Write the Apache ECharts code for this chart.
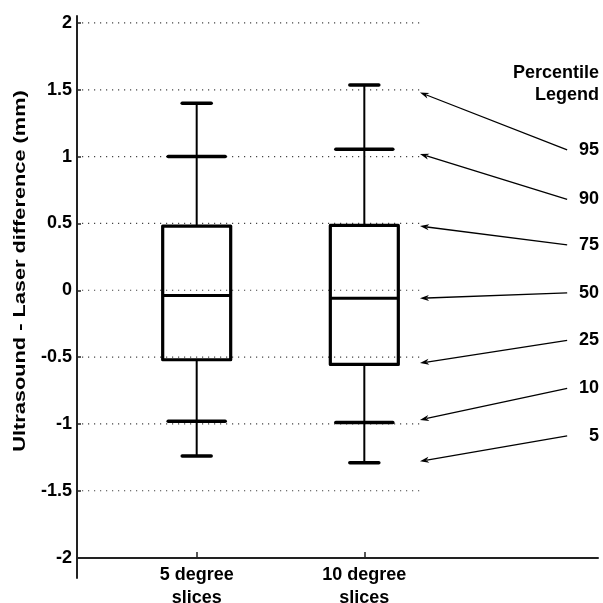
<!DOCTYPE html>
<html><head><meta charset="utf-8">
<script src="https://cdn.jsdelivr.net/npm/echarts@6/dist/echarts.min.js"></script>
<style>html,body{margin:0;padding:0;background:#fff}#c{width:603px;height:603px}</style>
</head><body><div id="c"></div>
<script>
// ---- data ----
const categories = ['5 degree\nslices', '10 degree\nslices'];
const catPositions = [1, 2];
const p5  = [-1.24, -1.29];
const p10 = [-0.98, -0.99];
const p25 = [-0.52, -0.555];
const p50 = [-0.04, -0.06];
const p75 = [0.48, 0.485];
const p90 = [1.00, 1.055];
const p95 = [1.40, 1.535];
const yTicks = [-2, -1.5, -1, -0.5, 0, 0.5, 1, 1.5, 2];
const gridValues = [-1.5, -1, -0.5, 0, 0.5, 1, 1.5, 2];
const legendLabels = ['95', '90', '75', '50', '25', '10', '5'];
const legendLabelY = [1.05, 0.68, 0.34, -0.02, -0.375, -0.735, -1.09];
const legendTargetY = [1.48, 1.02, 0.48, -0.06, -0.545, -0.97, -1.28];

// ---- layout constants (axis units) ----
const X_MIN = 0.286, X_MAX = 3.394;
const GRID_END = 2.332, ARROW_TAIL = 3.21, LABEL_X = 3.40;
const FONT = '"Liberation Sans", Arial, sans-serif';

const boxData = catPositions.map((x, i) => [x, p5[i], p10[i], p25[i], p50[i], p75[i], p90[i], p95[i]]);

function hline(x1, x2, y, w, cap) {
  return { type: 'line', shape: { x1, y1: y, x2, y2: y }, style: { stroke: '#000', lineWidth: w, lineCap: cap || 'butt' } };
}

const chart = echarts.init(document.getElementById('c'), null, { renderer: 'canvas' });
chart.setOption({
  animation: false,
  backgroundColor: '#fff',
  grid: { left: 77, right: 5, top: 16, bottom: 25, containLabel: false, outerBoundsMode: 'none' },
  xAxis: {
    type: 'value', min: X_MIN, max: X_MAX, offset: -20,
    splitLine: { show: false },
    axisLine: { show: true, onZero: false, lineStyle: { color: '#222', width: 2 } },
    axisTick: { show: true, inside: true, length: 6, customValues: catPositions, lineStyle: { color: '#222', width: 1.5 } },
    axisLabel: {
      customValues: catPositions, margin: 6,
      formatter: v => { const i = catPositions.indexOf(Math.round(v)); return i >= 0 ? categories[i] : ''; },
      fontFamily: FONT, fontWeight: 'bold', fontSize: 18, lineHeight: 23, color: '#000'
    }
  },
  yAxis: {
    type: 'value', min: -2.153, max: 2.052,
    splitLine: { show: false },
    axisLine: { show: true, lineStyle: { color: '#222', width: 2 } },
    axisTick: { show: true, inside: true, length: 4, customValues: yTicks, lineStyle: { color: '#222', width: 1.5 } },
    axisLabel: { customValues: yTicks, margin: 5, fontFamily: FONT, fontWeight: 'bold', fontSize: 18, color: '#000' }
  },
  graphic: [
    { type: 'text', x: 599, y: 62, style: { text: 'Percentile\nLegend', align: 'right', verticalAlign: 'top', font: 'bold 18px ' + FONT, lineHeight: 22, fill: '#000' } },
    { type: 'text', x: 20, y: 271, rotation: Math.PI / 2, scaleX: 1.28,
      style: { text: 'Ultrasound - Laser difference (mm)', align: 'center', verticalAlign: 'middle', font: 'bold 17px ' + FONT, fill: '#000' } }
  ],
  series: [
    {
      type: 'custom', z: 1, clip: false,
      data: gridValues.map(v => [v]),
      renderItem: (params, api) => {
        const v = api.value(0);
        const a = api.coord([X_MIN, v]), b = api.coord([GRID_END, v]);
        return { type: 'line', shape: { x1: a[0] + 5, y1: a[1], x2: b[0], y2: b[1] },
                 style: { stroke: '#444', lineWidth: 1.2, lineDash: [1.2, 4.8] } };
      }
    },
    {
      type: 'custom', z: 3, clip: false,
      data: boxData,
      renderItem: (params, api) => {
        const x = api.value(0);
        const c = v => api.coord([x, v]);
        const cx = c(api.value(1))[0];
        const y5 = c(api.value(1))[1], y10 = c(api.value(2))[1], y25 = c(api.value(3))[1],
              y50 = c(api.value(4))[1], y75 = c(api.value(5))[1], y90 = c(api.value(6))[1], y95 = c(api.value(7))[1];
        const bw = 34, cap1 = 28.5, cap2 = 14.5;
        return { type: 'group', children: [
          { type: 'line', shape: { x1: cx, y1: y95, x2: cx, y2: y75 }, style: { stroke: '#000', lineWidth: 2 } },
          { type: 'line', shape: { x1: cx, y1: y25, x2: cx, y2: y5 }, style: { stroke: '#000', lineWidth: 2 } },
          hline(cx - cap2, cx + cap2, y95, 3.5, 'round'),
          hline(cx - cap2, cx + cap2, y5, 3.5, 'round'),
          hline(cx - cap1, cx + cap1, y90, 3.5, 'round'),
          hline(cx - cap1, cx + cap1, y10, 3.5, 'round'),
          { type: 'rect', shape: { x: cx - bw, y: y75, width: 2 * bw, height: y25 - y75 },
            style: { fill: 'none', stroke: '#000', lineWidth: 3.2, lineJoin: 'round' } },
          hline(cx - bw, cx + bw, y50, 3)
        ] };
      }
    },
    {
      type: 'custom', z: 4, clip: false,
      data: legendLabels.map((l, i) => [legendLabelY[i], legendTargetY[i]]),
      renderItem: (params, api) => {
        const tail = api.coord([ARROW_TAIL, api.value(0)]);
        const head = api.coord([GRID_END, api.value(1)]);
        const lab = api.coord([LABEL_X, api.value(0)]);
        const dx = tail[0] - head[0], dy = tail[1] - head[1];
        const len = Math.sqrt(dx * dx + dy * dy), ux = dx / len, uy = dy / len;
        const L = 9, W = 3;
        const bx = head[0] + ux * L, by = head[1] + uy * L;
        return { type: 'group', children: [
          { type: 'line', shape: { x1: tail[0], y1: tail[1], x2: bx - ux * 2, y2: by - uy * 2 }, style: { stroke: '#000', lineWidth: 1.3 } },
          { type: 'polygon', shape: { points: [[head[0], head[1]], [bx - uy * W, by + ux * W], [bx - ux * 2.5, by - uy * 2.5], [bx + uy * W, by - ux * W]] },
            style: { fill: '#000' } },
          { type: 'text', x: lab[0], y: lab[1],
            style: { text: legendLabels[params.dataIndex], align: 'right', verticalAlign: 'middle', font: 'bold 18px ' + FONT, fill: '#000' } }
        ] };
      }
    }
  ]
});
</script>
</body></html>
